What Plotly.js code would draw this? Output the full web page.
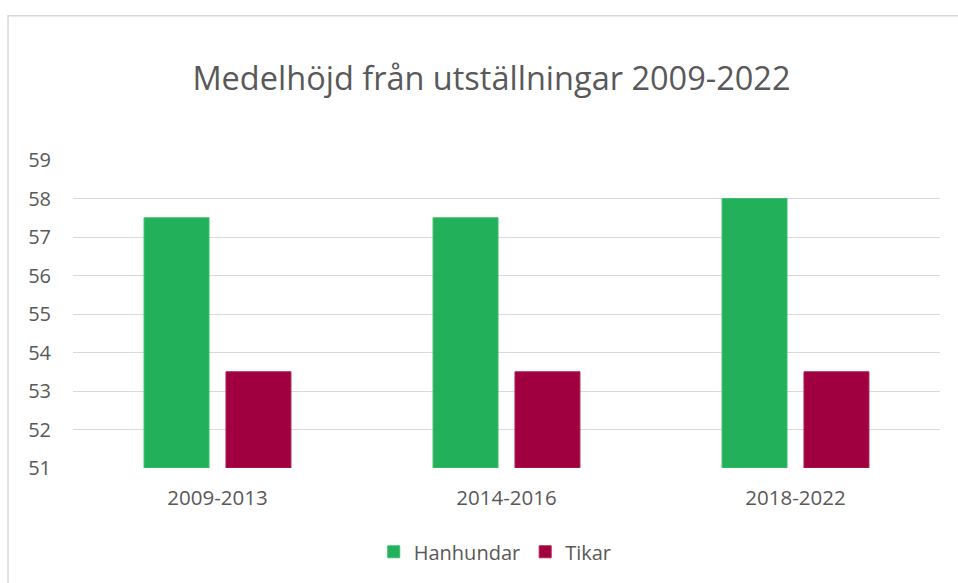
<!DOCTYPE html>
<html><head><meta charset="utf-8">
<script src="https://cdn.plot.ly/plotly-3.0.1.min.js"></script>
<style>html,body{margin:0;padding:0;background:#fff;}#chart{width:958px;height:583px;}</style>
</head><body><div id="chart"></div>
<script>
const categories = ["2009-2013", "2014-2016", "2018-2022"];
const hanhundar = [57.5, 57.5, 58];
const tikar = [53.5, 53.5, 53.5];
const seriesNames = ["Hanhundar", "Tikar"];
const titleText = "Medelhöjd från utställningar 2009-2022";
const axisBase = 51;

const font = "Open Sans, sans-serif";
const data = [
  {type: "bar", name: seriesNames[0], x: categories, y: hanhundar.map(v => v - axisBase),
   base: axisBase, marker: {color: "#23b05a", line: {color: "#3cbf6e", width: 1}}},
  {type: "bar", name: seriesNames[1], x: categories, y: tikar.map(v => v - axisBase),
   base: axisBase, marker: {color: "#a0003f", line: {color: "#b0204f", width: 1}}}
];

const layout = {
  width: 958, height: 583,
  paper_bgcolor: "#ffffff", plot_bgcolor: "#ffffff",
  margin: {l: 73, r: 18, t: 159.5, b: 115},
  title: {text: titleText, x: 0.513, xanchor: "center", y: 0.865, yanchor: "middle",
          font: {family: font, size: 32.5, color: "#595959"}},
  barmode: "group", bargap: 0.433, bargroupgap: 0.207,
  xaxis: {type: "category", showgrid: false, zeroline: false, showline: false,
          ticks: "", tickfont: {family: font, size: 20.5, color: "#595959"}, ticklabelstandoff: 15},
  yaxis: {range: [51, 59], dtick: 1, tick0: 51, showgrid: true, gridcolor: "#d9d9d9", gridwidth: 1,
          zeroline: false, showline: false, ticks: "",
          tickfont: {family: font, size: 20, color: "#595959"}, ticklabelstandoff: 21},
  showlegend: true,
  legend: {orientation: "h", x: 0.487, xanchor: "center", y: -0.272, yanchor: "middle",
           font: {family: font, size: 20, color: "#595959"}, itemwidth: 30},
  shapes: [{type: "rect", xref: "paper", yref: "paper", x0: -0.0749, x1: 1.03, y0: -0.4, y1: 1.468,
            line: {color: "#d9d9d9", width: 1.5}, fillcolor: "rgba(0,0,0,0)", layer: "below"}]
};
Plotly.newPlot("chart", data, layout, {displayModeBar: false, staticPlot: true});
</script></body></html>
